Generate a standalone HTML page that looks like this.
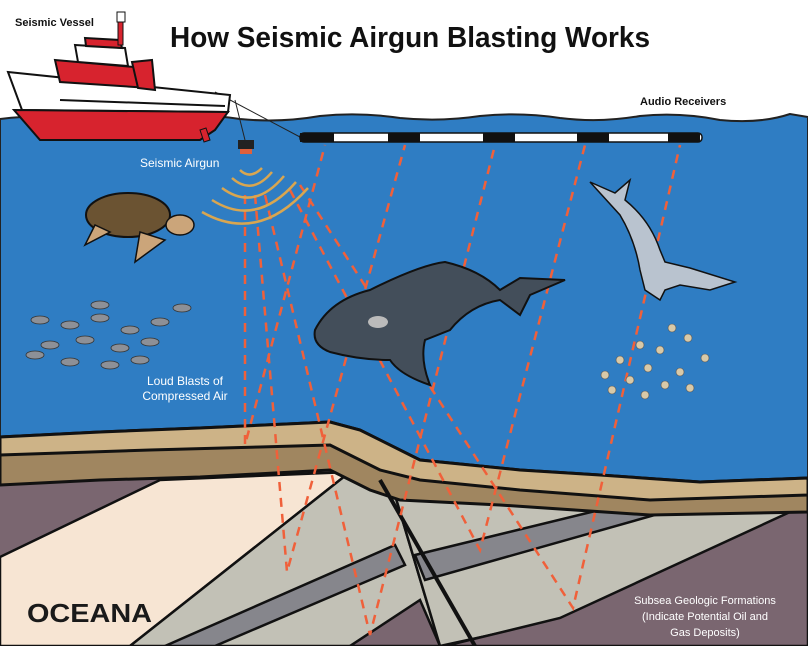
<!DOCTYPE html>
<html><head><meta charset="utf-8"><style>
html,body{margin:0;padding:0;background:#fff}
svg{display:block}
text{font-family:"Liberation Sans",sans-serif}
</style></head><body>
<svg width="808" height="646" viewBox="0 0 808 646" xmlns="http://www.w3.org/2000/svg">
<rect width="808" height="646" fill="#fff"/>
<!-- water -->
<path d="M0,119 Q40,114 80,118 Q120,122 160,117 Q200,113 240,119 Q280,123 320,116 Q360,112 400,118 Q440,122 480,116 Q520,112 560,118 Q600,123 640,116 Q680,112 720,120 Q760,124 790,114 L808,117 L808,540 L0,540 Z" fill="#2f7dc3" stroke="#222" stroke-width="2"/>
<!-- seabed base -->
<path d="M0,485 L100,480 L200,477 L330,470 L370,490 L400,500 L500,505 L650,515 L808,512 L808,646 L0,646 Z" fill="#7a6670"/>
<polygon points="0,557 160,480 350,472 130,646 0,646" fill="#f7e5d3" stroke="#111" stroke-width="2.5"/>
<polygon points="350,472 395,495 440,646 130,646" fill="#c2c1b6" stroke="#111" stroke-width="2.5"/>
<polygon points="395,545 405,565 215,646 165,646" fill="#86868c" stroke="#111" stroke-width="2.5"/>
<polygon points="420,600 440,646 350,646" fill="#7a6670" stroke="#111" stroke-width="2.5"/>
<polygon points="395,495 808,505 808,515 560,620 440,646" fill="#c2c1b6" stroke="#111" stroke-width="2.5"/>
<polygon points="415,555 620,505 690,505 425,580" fill="#86868c" stroke="#111" stroke-width="2.5"/>
<polygon points="790,512 808,512 808,646 445,646 560,618" fill="#7a6670" stroke="#111" stroke-width="2.5"/>
<!-- tan & brown bands -->
<path d="M0,437 L100,432 L200,428 L330,422 L360,430 L420,460 L520,470 L600,475 L700,482 L808,478 L808,512 L650,515 L500,505 L400,500 L370,490 L330,470 L200,477 L100,480 L0,485 Z" fill="#a08660" stroke="#111" stroke-width="3"/>
<path d="M0,437 L100,432 L200,428 L330,422 L360,430 L420,460 L520,470 L600,475 L700,482 L808,478 L808,495 L650,500 L520,490 L420,480 L380,470 L330,445 L260,447 L150,450 L0,455 Z" fill="#cdb387" stroke="#111" stroke-width="3"/>
<line x1="380" y1="480" x2="475" y2="646" stroke="#111" stroke-width="4"/>
<!-- dashed lines -->
<g stroke="#f0603a" stroke-width="2.5" stroke-dasharray="9,7" fill="none">
<polyline points="245,195 245,445 325,145"/>
<polyline points="255,195 287,572 405,145"/>
<polyline points="265,195 370,635 495,145"/>
<polyline points="290,190 480,550 585,145"/>
<polyline points="300,185 573,608 680,145"/>
</g>
<!-- sound arcs -->
<g stroke="#d9a650" stroke-width="2.5" fill="none">
<path d="M240,170 Q250,180 262,168"/>
<path d="M232,178 Q252,196 272,172"/>
<path d="M222,188 Q254,212 284,176"/>
<path d="M212,200 Q256,228 296,182"/>
<path d="M202,212 Q258,244 308,188"/>
</g>
<!-- cable -->
<line x1="215" y1="92" x2="300" y2="137" stroke="#222" stroke-width="1"/>
<line x1="235" y1="100" x2="245" y2="140" stroke="#222" stroke-width="1"/>
<rect x="300" y="133" width="402" height="9" rx="4" fill="#fff" stroke="#111" stroke-width="1.5"/>
<g fill="#111"><rect x="300" y="133" width="34" height="9"/><rect x="388" y="133" width="32" height="9"/><rect x="483" y="133" width="32" height="9"/><rect x="577" y="133" width="32" height="9"/><rect x="668" y="133" width="32" height="9"/></g>
<!-- airgun -->
<rect x="238" y="140" width="16" height="9" fill="#222"/>
<rect x="240" y="149" width="12" height="5" fill="#e0603a"/>
<!-- ship -->
<polygon points="8,72 230,95 228,112 22,110" fill="#fff" stroke="#111" stroke-width="2"/>
<polygon points="14,110 228,112 215,130 200,140 40,140" fill="#d7232e" stroke="#111" stroke-width="2"/>
<line x1="60" y1="100" x2="225" y2="106" stroke="#111" stroke-width="2"/>
<polygon points="55,60 145,68 150,88 60,82" fill="#d7232e" stroke="#111" stroke-width="2"/>
<polygon points="75,45 125,48 128,66 78,62" fill="#fff" stroke="#111" stroke-width="2"/>
<polygon points="85,38 120,40 122,48 86,46" fill="#d7232e" stroke="#111" stroke-width="2"/>
<rect x="118" y="20" width="5" height="25" fill="#d7232e" stroke="#111"/>
<rect x="117" y="12" width="8" height="10" fill="#fff" stroke="#111"/>
<polygon points="132,62 152,60 155,90 138,88" fill="#d7232e" stroke="#111" stroke-width="2"/>
<polygon points="200,130 206,128 210,140 204,142" fill="#d7232e" stroke="#111"/>
<!-- turtle -->
<ellipse cx="128" cy="215" rx="42" ry="22" fill="#6b5332" stroke="#111" stroke-width="2"/>
<ellipse cx="180" cy="225" rx="14" ry="10" fill="#cba57a" stroke="#111" stroke-width="1.5"/>
<path d="M95,225 L85,245 L110,232 Z M140,232 L135,262 L165,240 Z" fill="#cba57a" stroke="#111" stroke-width="1.5"/>
<!-- whale -->
<path d="M315,330 Q330,300 370,290 Q420,265 445,262 Q480,270 500,290 L520,278 L565,280 L530,295 L520,315 L500,300 Q470,305 450,330 L425,340 Q420,360 430,385 Q400,375 390,360 Q360,360 330,352 Q312,345 315,330 Z" fill="#434e5a" stroke="#111" stroke-width="2"/>
<ellipse cx="378" cy="322" rx="10" ry="6" fill="#bbb"/>
<!-- dolphin -->
<path d="M590,182 L615,193 L630,180 L625,200 Q650,220 660,250 L665,262 L690,268 L735,282 L710,290 L680,285 L665,290 L660,300 L645,290 L640,270 Q635,240 620,215 Z" fill="#b9c3cf" stroke="#111" stroke-width="1.5"/>
<!-- fish -->
<g fill="#8d9097" stroke="#333" stroke-width="0.8">
<ellipse cx="40" cy="320" rx="9" ry="4"/><ellipse cx="70" cy="325" rx="9" ry="4"/><ellipse cx="100" cy="318" rx="9" ry="4"/><ellipse cx="130" cy="330" rx="9" ry="4"/><ellipse cx="160" cy="322" rx="9" ry="4"/><ellipse cx="182" cy="308" rx="9" ry="4"/><ellipse cx="50" cy="345" rx="9" ry="4"/><ellipse cx="85" cy="340" rx="9" ry="4"/><ellipse cx="120" cy="348" rx="9" ry="4"/><ellipse cx="150" cy="342" rx="9" ry="4"/><ellipse cx="35" cy="355" rx="9" ry="4"/><ellipse cx="70" cy="362" rx="9" ry="4"/><ellipse cx="110" cy="365" rx="9" ry="4"/><ellipse cx="100" cy="305" rx="9" ry="4"/><ellipse cx="140" cy="360" rx="9" ry="4"/>
</g>
<g fill="#d8c9a8" stroke="#555" stroke-width="0.6">
<circle cx="672" cy="328" r="4"/><circle cx="688" cy="338" r="4"/><circle cx="640" cy="345" r="4"/><circle cx="660" cy="350" r="4"/><circle cx="705" cy="358" r="4"/><circle cx="620" cy="360" r="4"/><circle cx="648" cy="368" r="4"/><circle cx="680" cy="372" r="4"/><circle cx="605" cy="375" r="4"/><circle cx="630" cy="380" r="4"/><circle cx="665" cy="385" r="4"/><circle cx="690" cy="388" r="4"/><circle cx="645" cy="395" r="4"/><circle cx="612" cy="390" r="4"/>
</g>
<!-- text -->
<text x="410" y="47" text-anchor="middle" font-size="29" font-weight="bold" fill="#111" textLength="480" lengthAdjust="spacingAndGlyphs">How Seismic Airgun Blasting Works</text>
<text x="15" y="26" font-size="11" font-weight="bold" fill="#111">Seismic Vessel</text>
<text x="640" y="105" font-size="11" font-weight="bold" fill="#111">Audio Receivers</text>
<text x="140" y="167" font-size="12" fill="#fff">Seismic Airgun</text>
<text x="185" y="385" text-anchor="middle" font-size="12" fill="#fff">Loud Blasts of</text>
<text x="185" y="400" text-anchor="middle" font-size="12" fill="#fff">Compressed Air</text>
<text x="705" y="604" text-anchor="middle" font-size="11" fill="#fff">Subsea Geologic Formations</text>
<text x="705" y="620" text-anchor="middle" font-size="11" fill="#fff">(Indicate Potential Oil and</text>
<text x="705" y="636" text-anchor="middle" font-size="11" fill="#fff">Gas Deposits)</text>
<text x="27" y="622" font-size="26" font-weight="bold" fill="#1a1a1a" textLength="125" lengthAdjust="spacingAndGlyphs">OCEANA</text>
</svg>
</body></html>
